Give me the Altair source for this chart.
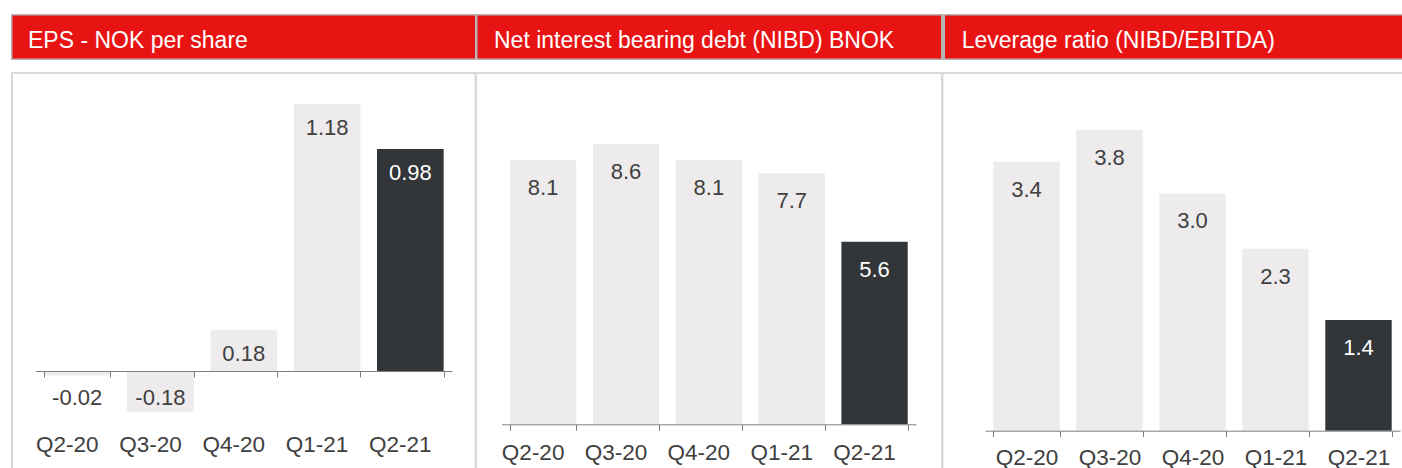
import altair as alt
import pandas as pd

# ---- data ----
quarters = ["Q2-20", "Q3-20", "Q4-20", "Q1-21", "Q2-21"]
eps = [-0.02, -0.18, 0.18, 1.18, 0.98]
nibd = [8.1, 8.6, 8.1, 7.7, 5.6]
leverage = [3.4, 3.8, 3.0, 2.3, 1.4]
titles = ["EPS - NOK per share",
          "Net interest bearing debt (NIBD) BNOK",
          "Leverage ratio (NIBD/EBITDA)"]
highlight = "Q2-21"

# ---- style ----
FONT = "Liberation Sans"
RED = "#E81414"
HEAD_BORDER = "#B5B5B5"
BOX_BORDER = "#D9D9D9"
LIGHT = "#EDEBEC"
DARK = "#323639"
TEXT = "#404040"
AXIS = "#7F7F7F"
H = 468


def panel(values, decimals, title, width, head_x, head_in, box_x, box_in,
          title_x, x_range, zero_px, ppu, label_dy, label_pad, label_off,
          neg_dy=27):
    df = pd.DataFrame({"quarter": quarters, "value": values})
    df["label"] = [f"{v:.{decimals}f}" for v in values]
    deco = alt.Chart(pd.DataFrame({"title": [title]}))

    head_outer = deco.mark_rect(color=HEAD_BORDER).encode(
        x=alt.value(head_x[0]), x2=alt.value(head_x[1]),
        y=alt.value(14), y2=alt.value(60))
    head_inner = deco.mark_rect(color=RED).encode(
        x=alt.value(head_in[0]), x2=alt.value(head_in[1]),
        y=alt.value(15.5), y2=alt.value(58.5))
    head_text = deco.mark_text(font=FONT, fontSize=23, color="white",
                               align="left", baseline="alphabetic").encode(
        x=alt.value(title_x), y=alt.value(47.5), text="title:N")
    box_outer = deco.mark_rect(color=BOX_BORDER).encode(
        x=alt.value(box_x[0]), x2=alt.value(box_x[1]),
        y=alt.value(72), y2=alt.value(H))
    box_inner = deco.mark_rect(color="white").encode(
        x=alt.value(box_in[0]), x2=alt.value(box_in[1]),
        y=alt.value(74), y2=alt.value(H))

    y_domain = [-(H - zero_px) / ppu, zero_px / ppu]
    xs = alt.X("quarter:N", sort=quarters,
               scale=alt.Scale(range=x_range, paddingInner=0.2, paddingOuter=0.1),
               axis=alt.Axis(title=None, orient="bottom", offset=-(H - zero_px),
                             labelPadding=label_pad, labelOffset=label_off,
                             labelFont=FONT, labelFontSize=22.5, labelColor=TEXT,
                             labelAngle=0, domainColor=AXIS, tickColor=AXIS,
                             tickSize=6, tickBand="extent", grid=False, zindex=1))
    ys = alt.Y("value:Q", scale=alt.Scale(domain=y_domain, nice=False, zero=False),
               axis=None)
    is_hl = alt.datum.quarter == highlight

    base = alt.Chart(df)
    bars = base.mark_bar().encode(
        x=xs, y=ys, y2=alt.datum(0),
        color=alt.condition(is_hl, alt.value(DARK), alt.value(LIGHT)))
    pos = base.transform_filter("datum.value >= 0").mark_text(
        font=FONT, fontSize=22, baseline="middle", dy=label_dy).encode(
        x=xs, y=ys, text="label:N",
        color=alt.condition(is_hl, alt.value("white"), alt.value(TEXT)))
    layers = [box_outer, box_inner, head_outer, head_inner, head_text, bars, pos]
    if min(values) < 0:
        neg = base.transform_filter("datum.value < 0").mark_text(
            font=FONT, fontSize=22, baseline="middle", dy=neg_dy, color=TEXT).encode(
            x=xs, y=alt.datum(0), text="label:N")
        layers.append(neg)
    return alt.layer(*layers).properties(width=width, height=H)


p1 = panel(eps, 2, titles[0], 476, [11, 476], [12.5, 475], [11, 476], [13, 474.5],
           28, [35.5, 452], 371, 226.5, 24, 56.5, -10.5)
p2 = panel(nibd, 1, titles[1], 466, [0, 466], [1.5, 465], [0, 466], [1, 465],
           18, [25.7, 440], 424.3, 32.6, 28, 11, -10.5)
p3 = panel(leverage, 1, titles[2], 460, [0, 460], [3, 460], [0, 460], [1.5, 460],
           19.7, [43, 458], 430.7, 79.1, 28, 10, 0)

chart = alt.hconcat(p1, p2, p3, spacing=0, bounds="flush").properties(
    padding=0, background="white").configure_view(stroke=None)

chart.save("out.html", embed_options={"renderer": "svg", "actions": False})
